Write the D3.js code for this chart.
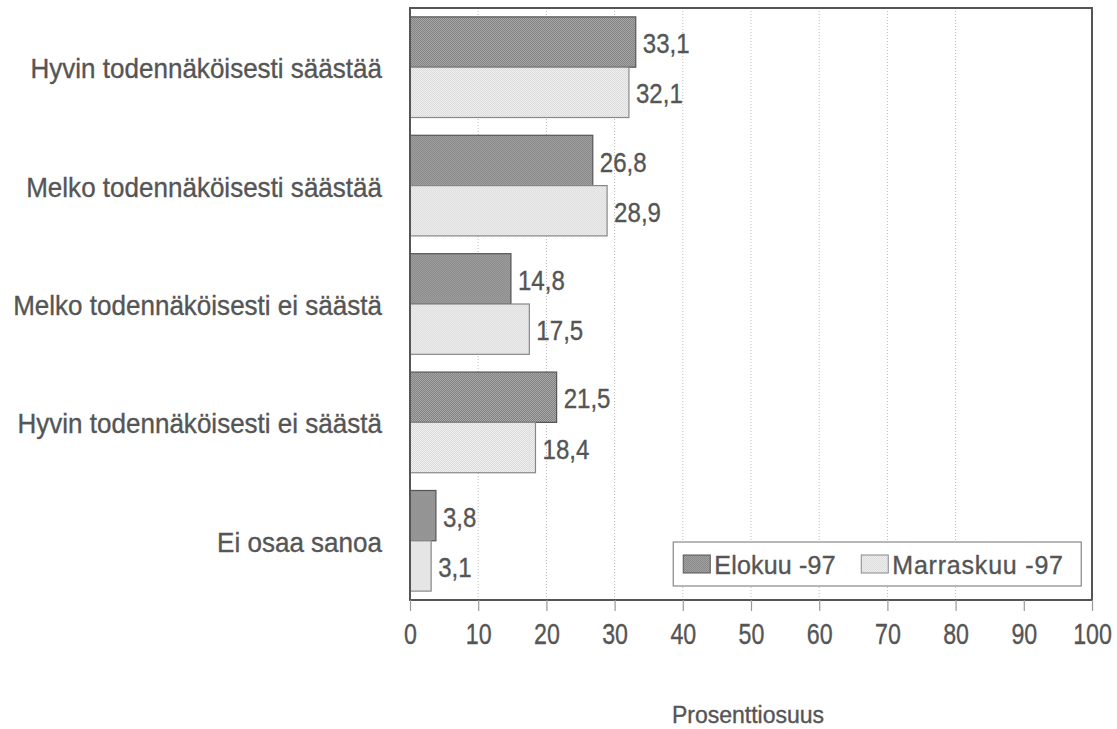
<!DOCTYPE html>
<html>
<head>
<meta charset="utf-8">
<script src="https://cdn.jsdelivr.net/npm/d3@7"></script>
<style>
  html, body { margin: 0; padding: 0; background: #fff; }
  svg text { font-family: "Liberation Sans", Arial, sans-serif; fill: #555; stroke: #555; stroke-width: 0.35px; }
</style>
</head>
<body>
<svg id="chart" width="1117" height="729"></svg>
<script>
// Aikomus säästää – vastausjakauma (%)
const categories = [
  "Hyvin todennäköisesti säästää",
  "Melko todennäköisesti säästää",
  "Melko todennäköisesti ei säästä",
  "Hyvin todennäköisesti ei säästä",
  "Ei osaa sanoa"
];
const seriesNames = ["Elokuu -97", "Marraskuu -97"];
const elokuu = [33.1, 26.8, 14.8, 21.5, 3.8];
const marraskuu = [32.1, 28.9, 17.5, 18.4, 3.1];
const xTicks = [0, 10, 20, 30, 40, 50, 60, 70, 80, 90, 100];
const gridValues = [10, 20, 30, 40, 50, 60, 70, 80];
const axisTitle = "Prosenttiosuus";

const svg = d3.select("#chart");
const margin = { left: 410, right: 25, top: 8, bottom: 129 };
const W = 1117, H = 729;
const innerW = W - margin.left - margin.right;
const innerH = H - margin.top - margin.bottom;

// Kapeutettu teksti: sijoitus translate-muunnoksella ja vaakaskaalaus
function narrow(sel, sx, px, py) {
  sel.attr("x", 0).attr("y", 0)
    .attr("transform", (d, i, n) => `translate(${px(d, i, n)},${py(d, i, n)}) scale(${sx},1)`);
  return sel;
}

// Tekstuurit pylväille
const defs = svg.append("defs");
function checker(id, a, b) {
  const p = defs.append("pattern").attr("id", id)
    .attr("width", 2).attr("height", 2).attr("patternUnits", "userSpaceOnUse");
  p.append("rect").attr("width", 2).attr("height", 2).attr("fill", a);
  p.append("rect").attr("width", 1).attr("height", 1).attr("fill", b);
  p.append("rect").attr("x", 1).attr("y", 1).attr("width", 1).attr("height", 1).attr("fill", b);
}
checker("patDark", "#7e7e7e", "#ababab");
checker("patLight", "#d6d6d6", "#f4f4f4");
const fills = ["url(#patDark)", "url(#patLight)"];
const strokes = ["#555", "#888"];

const g = svg.append("g").attr("transform", `translate(${margin.left},${margin.top})`);

const x = d3.scaleLinear().domain([0, 100]).range([0, innerW]);
const y = d3.scaleBand().domain(categories).range([0, innerH]).paddingInner(0.15).paddingOuter(0.075);
const ySub = d3.scaleBand().domain(seriesNames).range([0, y.bandwidth()]);

// Pisteviivaruudukko
g.append("g").selectAll("line").data(gridValues).join("line")
  .attr("x1", d => x(d)).attr("x2", d => x(d))
  .attr("y1", 0).attr("y2", innerH)
  .attr("stroke", "#bbb").attr("stroke-width", 1).attr("stroke-dasharray", "1,2");

// Pylväät
const data = categories.map((c, i) => ({ cat: c, vals: [elokuu[i], marraskuu[i]] }));
const groups = g.append("g").selectAll("g").data(data).join("g")
  .attr("transform", d => `translate(0,${y(d.cat)})`);

groups.selectAll("rect").data(d => d.vals.map((v, k) => ({ v, k }))).join("rect")
  .attr("x", x(0))
  .attr("y", d => ySub(seriesNames[d.k]))
  .attr("width", d => x(d.v) - x(0))
  .attr("height", ySub.bandwidth())
  .attr("fill", d => fills[d.k])
  .attr("stroke", d => strokes[d.k])
  .attr("stroke-width", 1.2);

groups.selectAll("text.val").data(d => d.vals.map((v, k) => ({ v, k }))).join("text")
  .attr("class", "val")
  .attr("dy", "0.36em")
  .attr("font-size", 28)
  .text(d => d3.format(".1f")(d.v).replace(".", ","))
  .call(narrow, 0.86, d => x(d.v) + 7, d => ySub(seriesNames[d.k]) + ySub.bandwidth() / 2 + 1);

// Kehys
g.append("rect").attr("x", 0).attr("y", 0).attr("width", innerW).attr("height", innerH)
  .attr("fill", "none").attr("stroke", "#555").attr("stroke-width", 2);

// Luokkien nimet
g.append("g").selectAll("text").data(categories).join("text")
  .attr("dy", "0.36em")
  .attr("text-anchor", "end")
  .attr("font-size", 28)
  .text(d => d)
  .call(narrow, 0.93, () => -28, d => y(d) + y.bandwidth() / 2 + 1);

// X-akseli
const xAxis = d3.axisBottom(x).tickValues(xTicks).tickSize(11).tickFormat(d3.format("d"));
const ax = g.append("g").attr("transform", `translate(0,${innerH})`).call(xAxis);
ax.select(".domain").remove();
ax.selectAll(".tick line").attr("stroke", "#999").attr("stroke-width", 1.2);
ax.selectAll(".tick text")
  .attr("font-size", 29).attr("fill", "#555").attr("dy", null)
  .attr("font-family", "Liberation Sans, Arial, sans-serif")
  .attr("x", 0).attr("y", 0)
  .attr("transform", "translate(0,44) scale(0.8,1)");

svg.append("text")
  .attr("x", margin.left + x(50) - 3)
  .attr("y", 723)
  .attr("text-anchor", "middle")
  .attr("font-size", 23)
  .text(axisTitle);

// Selite
const lg = g.append("g").attr("transform", `translate(${x(38.6)},${534})`);
lg.append("rect").attr("width", 408).attr("height", 44)
  .attr("fill", "#fff").attr("stroke", "#888").attr("stroke-width", 1.2);
const legendX = [10, 188];
seriesNames.forEach((s, k) => {
  lg.append("rect").attr("x", legendX[k]).attr("y", 13).attr("width", 27).attr("height", 18)
    .attr("fill", fills[k]).attr("stroke", strokes[k]).attr("stroke-width", 1);
  lg.append("text").attr("x", legendX[k] + 31).attr("y", 23).attr("dy", "0.36em")
    .attr("font-size", 25).attr("letter-spacing", k === 1 ? 0.8 : 0.2).text(s);
});
</script>
</body>
</html>
